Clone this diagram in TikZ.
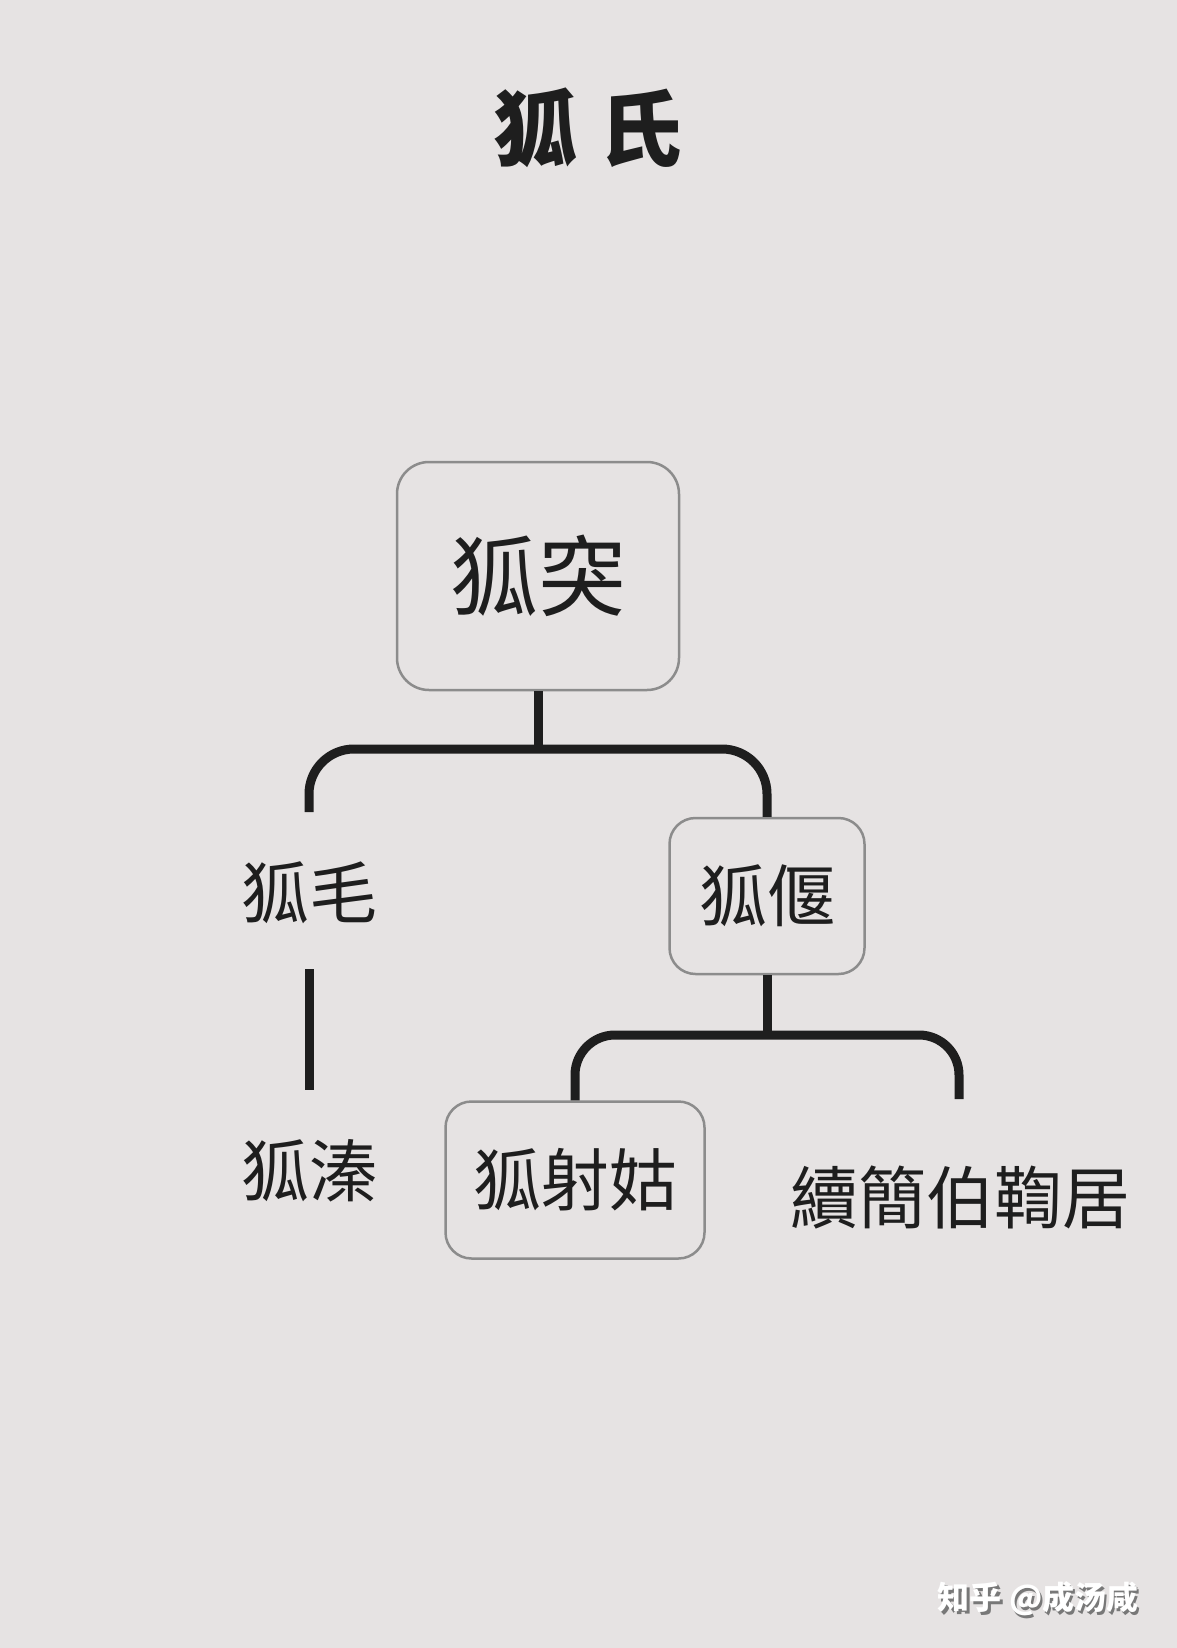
\documentclass[tikz,border=0pt]{standalone}
\usepackage{fontspec}
\newfontfamily\cjk{Noto Sans CJK TC}
\newfontfamily\cjksc{Noto Sans CJK SC}
\definecolor{paper}{RGB}{230,227,227}
\definecolor{boxline}{RGB}{140,140,140}
\definecolor{ink}{RGB}{30,30,30}
\definecolor{shade}{RGB}{120,120,120}
\begin{document}
\begin{tikzpicture}[x=1pt,y=-1pt,
  box/.style={draw=boxline,line width=2.5pt,rounded corners=32pt,inner sep=0pt,fill=none},
  lbl/.style={inner sep=0pt,text=ink},
  conn/.style={draw=ink,line width=9pt}]
\fill[paper] (0,0) rectangle (1177,1648);
\useasboundingbox (0,0) rectangle (1177,1648);
% title
\node[lbl] (title) at (588,128) {\cjksc\bfseries\fontsize{84}{90}\selectfont 狐\hspace{22pt}氏};
% nodes
\node[box,minimum width=282pt,minimum height=228pt] (tu) at (538,576) {};
\node[lbl] at (tu.center) {\cjk\fontsize{88}{96}\selectfont 狐突};
\node[lbl] (mao) at (309,893) {\cjk\fontsize{68}{72}\selectfont 狐毛};
\node[lbl] (qin) at (309,1171) {\cjk\fontsize{68}{72}\selectfont 狐溱};
\node[box,rounded corners=26pt,minimum width=195pt,minimum height=156pt] (yan) at (767,896) {};
\node[lbl] at (yan.center) {\cjk\fontsize{68}{72}\selectfont 狐偃};
\node[box,rounded corners=26pt,minimum width=259pt,minimum height=157pt] (she) at (575,1180) {};
\node[lbl] at (she.center) {\cjk\fontsize{68}{72}\selectfont 狐射姑};
\node[lbl] (xu) at (960,1197) {\cjk\fontsize{68}{72}\selectfont 續簡伯鞫居};
% coordinates
\coordinate (b1) at (538,749);
\coordinate (mT) at (309,812);
\coordinate (m1) at (309,969);
\coordinate (m2) at (309,1090);
\coordinate (b2) at (767,1035);
\coordinate (xT) at (959,1099);
% connectors
\draw[conn] (tu.south) -- (b1);
\draw[conn,rounded corners=45pt] (mT) -- (mT |- b1) -- (yan.north |- b1) -- (yan.north);
\draw[conn] (m1) -- (m2);
\draw[conn] (yan.south) -- (b2);
\draw[conn,rounded corners=40pt] (she.north) -- (she.north |- b2) -- (xT |- b2) -- (xT);
% watermark
\node[inner sep=0pt,text=shade] at (1040.5,1601.5) {\cjksc\bfseries\fontsize{32}{36}\selectfont 知乎 @成汤咸};
\node[inner sep=0pt,text=white] (wm) at (1038,1599) {\cjksc\bfseries\fontsize{32}{36}\selectfont 知乎 @成汤咸};
\end{tikzpicture}
\end{document}
